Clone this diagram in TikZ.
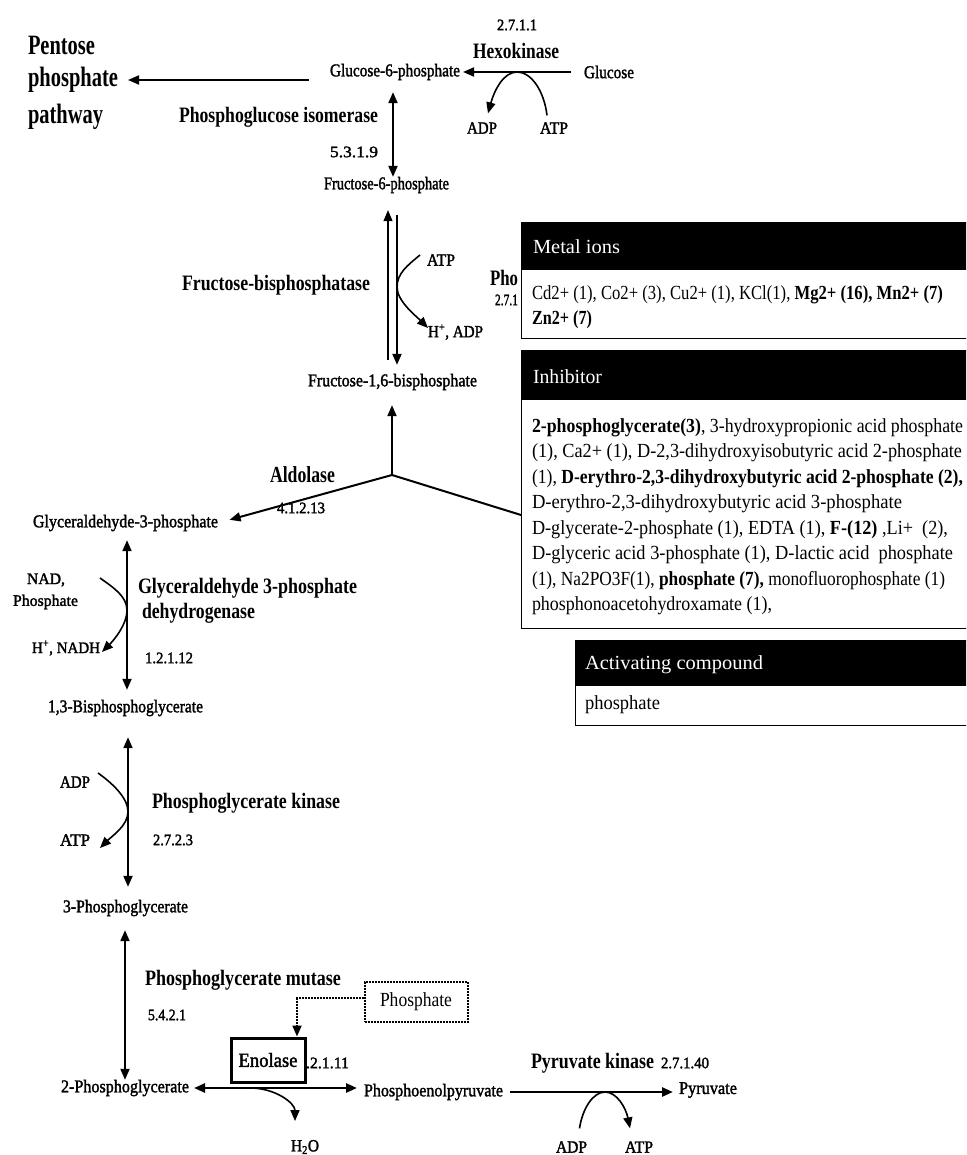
\documentclass[tikz,border=0pt]{standalone}
\usepackage{fontspec}
\usepackage{graphicx}
\setmainfont{Liberation Serif}
\newfontfamily\medfont[FakeBold=1.8]{Liberation Serif}
\usetikzlibrary{arrows.meta,calc}

% text squeezed or stretched to a given width (pt), keeping its height
\newcommand\fitw[2]{\resizebox{#1pt}{\height}{#2}}
% bold / medium / regular labels: size, width, text
\newcommand\bl[3]{\fitw{#2}{\fontsize{#1}{#1}\selectfont\bfseries #3}}
\newcommand\ml[3]{\fitw{#2}{\fontsize{#1}{#1}\selectfont\medfont #3}}
\newcommand\rl[3]{\fitw{#2}{\fontsize{#1}{#1}\selectfont #3}}

\begin{document}
\begin{tikzpicture}[x=1pt,y=-1pt,
  >={Triangle[length=11pt,width=9pt]},
  lbl/.style={inner sep=0pt, outer sep=0pt, anchor=west},
  main/.style={line width=2pt, ->},
  both/.style={line width=2pt, <->},
  cofa/.style={line width=1.6pt, ->},
  pibox/.style={draw, densely dotted, line width=2pt, minimum width=103, minimum height=40, inner sep=0pt},
  enobox/.style={draw, line width=3pt, minimum width=74, minimum height=44, inner sep=0pt},
  panel/.style={fill=white, draw=black, line width=0.8pt},
  hdrtext/.style={lbl, text=white}]

\useasboundingbox (0,0) rectangle (966,1155);
\clip (0,0) rectangle (966,1155);
\fill[white] (0,0) rectangle (966,1155);

% ---------- labels ----------
\node[lbl] (ec-hk) at (497,25) {\ml{16}{40}{2.7.1.1}};
\node[lbl] (hk) at (473,51) {\bl{22}{86}{Hexokinase}};
\node[lbl] (pp1) at (28,45) {\bl{28}{67}{Pentose}};
\node[lbl] (pp2) at (28,80) {\bl{28}{90}{phosphate}};
\node[lbl] (pp3) at (28,117) {\bl{28}{75}{pathway}};
\node[lbl] (g6p) at (330,72) {\ml{18}{130}{Glucose-6-phosphate}};
\node[lbl] (glc) at (584,72) {\ml{18}{50}{Glucose}};
\node[lbl] (adp1) at (467,128) {\ml{17}{30}{ADP}};
\node[lbl] (atp1) at (540,128) {\ml{17}{28}{ATP}};
\node[lbl] (pgi) at (179,117) {\bl{22}{199}{Phosphoglucose isomerase}};
\node[lbl] (ec-pgi) at (330,152) {\ml{16}{48}{5.3.1.9}};
\node[lbl] (f6p) at (324,185) {\ml{18}{125}{Fructose-6-phosphate}};
\node[lbl] (fbp) at (182,285) {\bl{22}{188}{Fructose-bisphosphatase}};
\node[lbl] (atp2) at (427,260) {\ml{17}{28}{ATP}};
\node[lbl] (hadp) at (428,332) {\ml{17}{55}{H\textsuperscript{+}, ADP}};
\node[lbl] (f16bp) at (308,382) {\ml{18}{169}{Fructose-1,6-bisphosphate}};
\node[lbl] (pfk) at (490,278) {\bl{22}{28}{Pho}};
\node[lbl] (ec-pfk) at (495,300) {\ml{16}{23}{2.7.1}};
\node[lbl] (ald) at (270,475) {\bl{23}{65}{Aldolase}};
\node[lbl] (gap) at (33,523) {\ml{18}{185}{Glyceraldehyde-3-phosphate}};
\node[lbl] (nad) at (27,580) {\ml{16}{38}{NAD,}};
\node[lbl] (pi1) at (13,602) {\ml{16}{65}{Phosphate}};
\node[lbl] (gapdh1) at (138,588) {\bl{22}{219}{Glyceraldehyde 3-phosphate}};
\node[lbl] (gapdh2) at (142,613) {\bl{22}{113}{dehydrogenase}};
\node[lbl] (nadh) at (32,648) {\ml{16}{68}{H\textsuperscript{+}, NADH}};
\node[lbl] (ec-gapdh) at (145,658) {\ml{16}{48}{1.2.1.12}};
\node[lbl] (bpg) at (48,708) {\ml{18}{155}{1,3-Bisphosphoglycerate}};
\node[lbl] (adp2) at (60,782) {\ml{17}{30}{ADP}};
\node[lbl] (atp3) at (60,840) {\ml{17}{30}{ATP}};
\node[lbl] (pgk) at (152,803) {\bl{22}{188}{Phosphoglycerate kinase}};
\node[lbl] (ec-pgk) at (153,840) {\ml{16}{40}{2.7.2.3}};
\node[lbl] (pg3) at (63,908) {\ml{18}{125}{3-Phosphoglycerate}};
\node[lbl] (pgm) at (145,980) {\bl{22}{196}{Phosphoglycerate mutase}};
\node[lbl] (ec-pgm) at (148,1015) {\ml{16}{38}{5.4.2.1}};
\node[pibox] (pibox) at (416,1002) {\rl{20}{72}{Phosphate}};
\node[enobox] (eno) at (268,1060) {\ml{20}{59}{Enolase}};
\node[lbl] (ec-eno) at (306,1063) {\ml{16}{43}{.2.1.11}};
\node[lbl] (pg2) at (61,1088) {\ml{18}{128}{2-Phosphoglycerate}};
\node[lbl] (pep) at (364,1092) {\ml{18}{139}{Phosphoenolpyruvate}};
\node[lbl] (h2o) at (291,1147) {\ml{17}{28}{H\textsubscript{2}O}};
\node[lbl] (pk) at (531,1063) {\bl{22}{123}{Pyruvate kinase}};
\node[lbl] (ec-pk) at (661,1063) {\ml{16}{48}{2.7.1.40}};
\node[lbl] (pyr) at (679,1090) {\ml{18}{58}{Pyruvate}};
\node[lbl] (adp4) at (556,1147) {\ml{17}{31}{ADP}};
\node[lbl] (atp4) at (625,1147) {\ml{17}{28}{ATP}};

% ---------- reference points ----------
\coordinate (colA) at (393,0);
\coordinate (colB) at (388,0);
\coordinate (colC) at (397,0);
\coordinate (colD) at (127,0);
\coordinate (colE) at (128,0);
\coordinate (colF) at (125,0);
\coordinate (aldj) at (392,475);
\coordinate (dhap) at (521,515);

% ---------- hexokinase ----------
\draw[main, shorten <=21pt, shorten >=10pt] (g6p.west |- pp2.east) -- (pp2.east);
\draw[main, shorten <=13pt, shorten >=3pt] (glc.west) -- (g6p.east);
\coordinate (hktop) at ($(g6p.east)!0.46!(glc.west)$);
\draw[cofa] ([xshift=-7pt,yshift=7pt]atp1.north) .. controls +(-3,-25) and +(14,0) .. (hktop)
  .. controls +(-14,0) and +(6,-22) .. ([xshift=6pt,yshift=9pt]adp1.north);

% ---------- phosphoglucose isomerase ----------
\draw[both, shorten <=12pt] (g6p.south -| colA) -- (f6p.north -| colA);

% ---------- fructose-bisphosphatase / phosphofructokinase ----------
\draw[line width=1.2pt, ->, shorten <=14pt, shorten >=17pt] (f16bp.north -| colB) -- (f6p.south -| colB);
\draw[main, shorten <=22pt, shorten >=9pt] (f6p.south -| colC) -- (f16bp.north -| colC);
\coordinate (fbpmid) at ($(f6p.south -| colC)!0.52!(f16bp.north -| colC)$);
\draw[cofa] ([xshift=-7pt,yshift=5pt]atp2.west) .. controls +(-12,10) and +(0,-14) .. (fbpmid)
  .. controls +(0,14) and +(-12,-12) .. ([yshift=4pt]hadp.west);

% ---------- aldolase ----------
\draw[main, shorten >=15pt] (aldj) -- (f16bp.south -| aldj);
\draw[main, shorten >=12pt] (aldj) -- (gap.east);
\draw[line width=2pt] (aldj) -- (dhap);
\node[lbl] (ec-ald) at (277,508) {\ml{16}{48}{4.1.2.13}};

% ---------- glyceraldehyde 3-phosphate dehydrogenase ----------
\draw[both, shorten <=9pt, shorten >=10pt] (gap.south -| colD) -- (bpg.north -| colD);
\coordinate (gapdhmid) at ($(gap.south -| colD)!0.47!(bpg.north -| colD)$);
\draw[cofa] ([xshift=35pt,yshift=2pt]nad.east) .. controls +(14,10) and +(0,-14) .. (gapdhmid)
  .. controls +(0,14) and +(12,-12) .. ([xshift=2pt,yshift=-4pt]nadh.east);

% ---------- phosphoglycerate kinase ----------
\draw[both, shorten <=21pt, shorten >=13pt] (bpg.south -| colE) -- (pg3.north -| colE);
\coordinate (pgkmid) at ($(bpg.south -| colE)!0.52!(pg3.north -| colE)$);
\draw[cofa] ([xshift=8pt,yshift=9pt]adp2.east) .. controls +(14,10) and +(0,-14) .. (pgkmid)
  .. controls +(0,14) and +(12,-12) .. ([xshift=10pt,yshift=-8pt]atp3.east);

% ---------- phosphoglycerate mutase ----------
\draw[both, shorten <=14pt] (pg3.south -| colF) -- (pg2.north -| colF);

% ---------- enolase ----------
\draw[both, line width=2.5pt, shorten <=5pt, shorten >=7pt] (pg2.east) -- (pg2.east -| pep.west);
\coordinate (enomid) at ($(pg2.east)!0.35!(pg2.east -| pep.west)$);
\draw[cofa] (enomid) .. controls +(25,0) and +(0,-18) .. ([xshift=-10pt,yshift=19pt]h2o.north);
\draw[densely dotted, line width=2pt, ->] ([yshift=4pt]pibox.west) -| ([xshift=29pt]eno.north);

% ---------- pyruvate kinase ----------
\draw[main, line width=2.5pt, shorten <=7pt, shorten >=6pt] (pep.east) -- (pep.east -| pyr.west);
\coordinate (pkmid) at ($(pep.east)!0.58!(pep.east -| pyr.west)$);
\draw[cofa] ([xshift=8pt,yshift=13pt]adp4.north) .. controls +(3,-20) and +(-12,0) .. (pkmid)
  .. controls +(12,0) and +(-4,-20) .. ([xshift=-9pt,yshift=13pt]atp4.north);

% ---------- information panels ----------
\filldraw[panel] (521,222) rectangle (975,338);
\fill[black] (521,222) rectangle (975,270);
\node[hdrtext] (metalT) at (533,247) {\rl{20}{87}{Metal ions}};
\node[lbl] (m1) at (532,295) {\rl{20}{411}{Cd2+ (1), Co2+ (3), Cu2+ (1), KCl(1), \textbf{Mg2+ (16), Mn2+ (7)}}};
\node[lbl] (m2) at (532,320) {\rl{20}{60}{\textbf{Zn2+ (7)}}};

\filldraw[panel] (521,350) rectangle (975,628);
\fill[black] (521,350) rectangle (975,400);
\node[hdrtext] (inhT) at (533,377) {\rl{20}{69}{Inhibitor}};
\node[lbl] (i1) at (532,428) {\rl{20}{431}{\textbf{2-phosphoglycerate(3)}, 3-hydroxypropionic acid phosphate}};
\node[lbl] (i2) at (532,453) {\rl{20}{430}{(1), Ca2+ (1), D-2,3-dihydroxyisobutyric acid 2-phosphate}};
\node[lbl] (i3) at (532,479) {\rl{20}{431}{(1), \textbf{D-erythro-2,3-dihydroxybutyric acid 2-phosphate (2),}}};
\node[lbl] (i4) at (532,504) {\rl{20}{370}{D-erythro-2,3-dihydroxybutyric acid 3-phosphate}};
\node[lbl] (i5) at (532,530) {\rl{20}{416}{D-glycerate-2-phosphate (1), EDTA (1), \textbf{F-(12)} ,Li+ ~(2),}};
\node[lbl] (i6) at (532,555) {\rl{20}{421}{D-glyceric acid 3-phosphate (1), D-lactic acid ~phosphate}};
\node[lbl] (i7) at (532,581) {\rl{20}{413}{(1), Na2PO3F(1), \textbf{phosphate (7),} monofluorophosphate (1)}};
\node[lbl] (i8) at (532,606) {\rl{20}{240}{phosphonoacetohydroxamate (1),}};

\filldraw[panel] (575,640) rectangle (975,725);
\fill[black] (575,640) rectangle (975,686);
\node[hdrtext] (actT) at (585,665) {\rl{20}{178}{Activating compound}};
\node[lbl] (act1) at (585,705) {\rl{20}{75}{phosphate}};

\end{tikzpicture}
\end{document}
